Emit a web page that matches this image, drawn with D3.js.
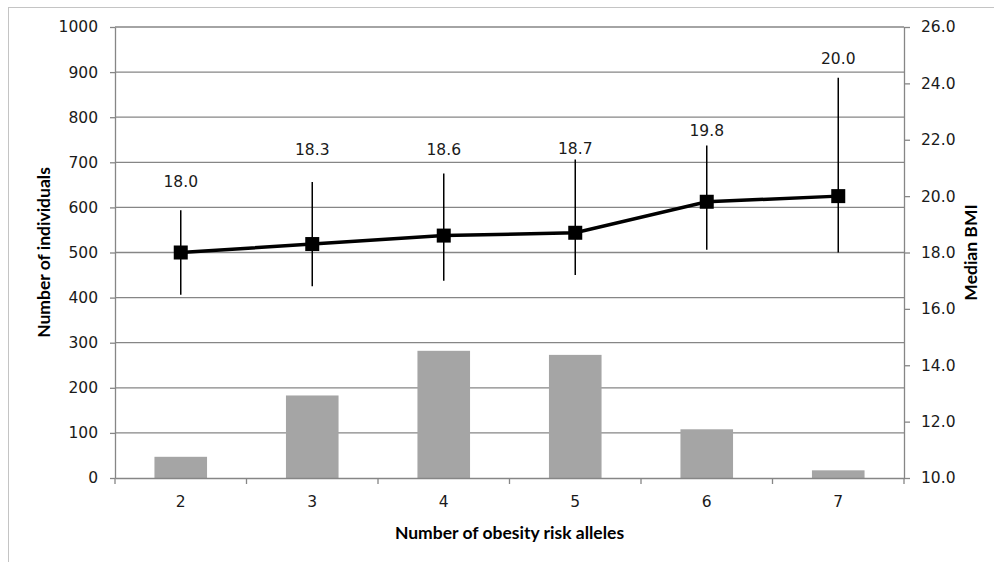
<!DOCTYPE html>
<html>
<head>
<meta charset="utf-8">
<script src="https://cdn.jsdelivr.net/npm/d3@7"></script>
<style>
  body { margin: 0; background: #fff; }
  svg { display: block; }
  .tick text { font-family: "DejaVu Sans", sans-serif; font-size: 15.5px; fill: #1a1a1a; }
  .title { font-family: Lato, "Open Sans", sans-serif; font-weight: bold; font-size: 17.5px; fill: #000; }
</style>
</head>
<body>
<svg width="994" height="562"></svg>
<script>
// data
var alleles = ["2", "3", "4", "5", "6", "7"];
var individuals = [47, 183, 282, 273, 108, 17];
var medianBMI = [18.0, 18.3, 18.6, 18.7, 19.8, 20.0];
var bmiLow = [16.5, 16.8, 17.0, 17.2, 18.1, 18.0];
var bmiHigh = [19.5, 20.5, 20.8, 21.3, 21.8, 24.2];
var countTicks = [0, 100, 200, 300, 400, 500, 600, 700, 800, 900, 1000];
var bmiTicks = [10, 12, 14, 16, 18, 20, 22, 24, 26];

// gap (px) between top of the error bar and the label baseline
var labelGap = [23, 27, 19, 5, 9, 14];

var svg = d3.select("svg");
var margin = {top: 27, right: 90, bottom: 84, left: 115},
    width = 994 - margin.left - margin.right,
    height = 562 - margin.top - margin.bottom;

var axisColor = "#868686";

// outer border (only top + left visible in the crop)
svg.append("rect")
  .attr("x", 8.5).attr("y", 7.5)
  .attr("width", 1100).attr("height", 700)
  .attr("fill", "none")
  .attr("stroke", "#c4c4c4");

var g = svg.append("g")
  .attr("transform", "translate(" + margin.left + "," + margin.top + ")");

var x = d3.scaleBand().domain(alleles).range([0, width]).paddingInner(0.6).paddingOuter(0.3);
var xc = d3.scaleBand().domain(alleles).range([0, width]);
var y = d3.scaleLinear().domain([0, 1000]).range([height, 0]);
var y2 = d3.scaleLinear().domain([10, 26]).range([height, 0]);

// gridlines
g.selectAll(".grid")
  .data(countTicks.slice(1))
  .enter().append("line")
  .attr("x1", 0).attr("x2", width)
  .attr("y1", function(d) { return y(d); })
  .attr("y2", function(d) { return y(d); })
  .attr("stroke", axisColor)
  .attr("stroke-width", 1.3);

// bars
g.selectAll(".bar")
  .data(individuals)
  .enter().append("rect")
  .attr("x", function(d, i) { return x(alleles[i]); })
  .attr("y", function(d) { return y(d); })
  .attr("width", x.bandwidth())
  .attr("height", function(d) { return height - y(d); })
  .attr("fill", "#a5a5a5");

// axes
g.append("g")
  .attr("class", "axis")
  .call(d3.axisLeft(y).tickValues(countTicks).tickSize(5).tickPadding(12).tickSizeOuter(0)
    .tickFormat(d3.format("d")));

g.append("g")
  .attr("class", "axis")
  .attr("transform", "translate(" + width + ",0)")
  .call(d3.axisRight(y2).tickValues(bmiTicks).tickSize(6).tickPadding(11).tickSizeOuter(0)
    .tickFormat(d3.format(".1f")));

var bottom = g.append("g")
  .attr("class", "axis")
  .attr("transform", "translate(0," + height + ")")
  .call(d3.axisBottom(xc).tickSize(0).tickPadding(18).tickSizeOuter(0));

// category boundary ticks on the x axis
bottom.selectAll(".sep")
  .data(alleles.concat(["end"]))
  .enter().append("line")
  .attr("x1", function(d, i) { return i * xc.step(); })
  .attr("x2", function(d, i) { return i * xc.step(); })
  .attr("y1", 0).attr("y2", 6)
  .attr("stroke", axisColor)
  .attr("stroke-width", 1.3);

g.selectAll(".axis path, .axis line")
  .attr("stroke", axisColor)
  .attr("stroke-width", 1.3);

// error bars
var cx = function(i) { return xc(alleles[i]) + xc.bandwidth() / 2; };

g.selectAll(".err")
  .data(medianBMI)
  .enter().append("line")
  .attr("x1", function(d, i) { return cx(i); })
  .attr("x2", function(d, i) { return cx(i); })
  .attr("y1", function(d, i) { return y2(bmiLow[i]); })
  .attr("y2", function(d, i) { return y2(bmiHigh[i]); })
  .attr("stroke", "#000")
  .attr("stroke-width", 1.5);

// median line
var line = d3.line()
  .x(function(d, i) { return cx(i); })
  .y(function(d) { return y2(d); });

g.append("path")
  .datum(medianBMI)
  .attr("d", line)
  .attr("fill", "none")
  .attr("stroke", "#000")
  .attr("stroke-width", 3.5);

g.selectAll(".marker")
  .data(medianBMI)
  .enter().append("rect")
  .attr("x", function(d, i) { return cx(i) - 7; })
  .attr("y", function(d) { return y2(d) - 7; })
  .attr("width", 14).attr("height", 14)
  .attr("fill", "#000");

// value labels
g.selectAll(".lbl")
  .data(medianBMI)
  .enter().append("text")
  .attr("x", function(d, i) { return cx(i); })
  .attr("y", function(d, i) { return y2(bmiHigh[i]) - labelGap[i]; })
  .attr("text-anchor", "middle")
  .style("font-family", "'DejaVu Sans', sans-serif")
  .style("font-size", "15.5px")
  .attr("fill", "#1a1a1a")
  .text(function(d) { return d3.format(".1f")(d); });

// titles
svg.append("text")
  .attr("class", "title")
  .attr("x", margin.left + width / 2)
  .attr("y", 539)
  .attr("text-anchor", "middle")
  .text("Number of obesity risk alleles");

svg.append("text")
  .attr("class", "title")
  .attr("transform", "translate(50," + (margin.top + height / 2) + ") rotate(-90)")
  .attr("text-anchor", "middle")
  .text("Number of individuals");

svg.append("text")
  .attr("class", "title")
  .attr("transform", "translate(977," + (margin.top + height / 2) + ") rotate(-90)")
  .attr("text-anchor", "middle")
  .text("Median BMI");
</script>
</body>
</html>
